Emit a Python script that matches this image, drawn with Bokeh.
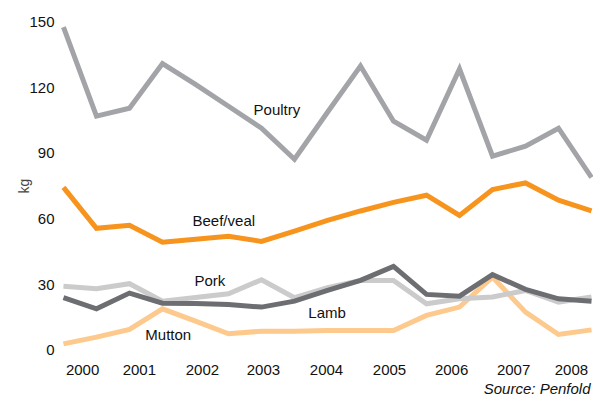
from bokeh.plotting import figure
from bokeh.models import Range1d, FixedTicker, Label, Title
from bokeh.embed import file_html
from bokeh.resources import INLINE

# 17 periods (roughly half-yearly)
periods = list(range(17))
poultry = [147.7, 107, 110.6, 131, 121.5, 111.5, 101.5, 87.3, 108.8, 129.9, 104.7, 96, 128.5, 88.7, 93.3, 101.5, 79]
beef_veal = [74.5, 55.8, 57.2, 49.4, 50.8, 52.1, 49.8, 54.5, 59.4, 63.7, 67.6, 70.9, 61.7, 73.5, 76.5, 68.6, 63.7]
pork = [29.3, 28.2, 30.5, 22.5, 24.2, 25.9, 32.3, 24.1, 28.7, 32, 32, 21.3, 23.6, 24.4, 27.4, 22.1, 24.4]
lamb = [24.1, 19.0, 26.2, 21.6, 21.5, 21.0, 19.8, 22.5, 27.4, 32, 38.4, 25.6, 24.8, 34.6, 27.9, 23.6, 22.5]
mutton = [3.0, 6.1, 9.6, 19.0, 13.4, 7.6, 8.8, 8.8, 9.1, 9.1, 9.1, 16, 19.8, 33.5, 17.5, 7.3, 9.4]

year_labels = ["2000", "2001", "2002", "2003", "2004", "2005", "2006", "2007", "2008"]
year_ticks = [0.58, 2.30, 4.21, 6.06, 7.97, 9.88, 11.76, 13.64, 15.39]
y_ticks = [0, 30, 60, 90, 120, 150]

FONT = "Liberation Sans"

p = figure(width=593, height=403, output_backend="svg", toolbar_location=None,
           x_range=Range1d(-0.09, 16.06), y_range=Range1d(-2.3, 152.5),
           min_border_left=60, min_border_right=0, min_border_top=16, min_border_bottom=48)
p.outline_line_color = None
p.grid.visible = False
p.background_fill_color = "white"
p.border_fill_color = "white"

series = [
    (poultry, "#a3a4a8"),
    (beef_veal, "#f7941e"),
    (pork, "#cbcbcc"),
    (lamb, "#6d6e71"),
    (mutton, "#fdc98c"),
]
for vals, col in [series[4], series[2], series[3], series[1], series[0]]:
    p.line(periods, vals, line_color=col, line_width=5, line_join="miter")

p.xaxis.ticker = FixedTicker(ticks=year_ticks)
p.xaxis.major_label_overrides = {t: l for t, l in zip(year_ticks, year_labels)}
p.yaxis.ticker = FixedTicker(ticks=y_ticks)
for ax in (p.xaxis[0], p.yaxis[0]):
    ax.axis_line_color = None
    ax.major_tick_line_color = None
    ax.minor_tick_line_color = None
    ax.major_tick_out = 0
    ax.major_tick_in = 0
    ax.minor_tick_out = 0
    ax.minor_tick_in = 0
    ax.major_label_text_font = FONT
    ax.major_label_text_font_size = "15px"
    ax.major_label_text_color = "#111111"
p.xaxis.major_label_standoff = 9
p.yaxis.major_label_standoff = 6
p.yaxis.axis_label = "kg"
p.yaxis.axis_label_text_font = FONT
p.yaxis.axis_label_text_font_size = "14px"
p.yaxis.axis_label_text_font_style = "normal"
p.yaxis.axis_label_standoff = -6

labels = [
    ("Poultry", 5.76, 110.2),
    ("Beef/veal", 3.91, 59.4),
    ("Pork", 3.97, 32.0),
    ("Mutton", 2.48, 7.3),
    ("Lamb", 7.42, 17.4),
]
for txt, lx, ly in labels:
    p.add_layout(Label(x=lx, y=ly, text=txt, text_font=FONT, text_font_size="15px",
                       text_baseline="middle", text_align="left", text_color="#111111"))

src = Title(text="Source: Penfold", align="right", text_font=FONT, text_font_size="15px",
            text_font_style="italic", text_color="#111111", offset=3, standoff=0)
p.add_layout(src, "below")

open("out.html", "w").write(file_html(p, INLINE))
